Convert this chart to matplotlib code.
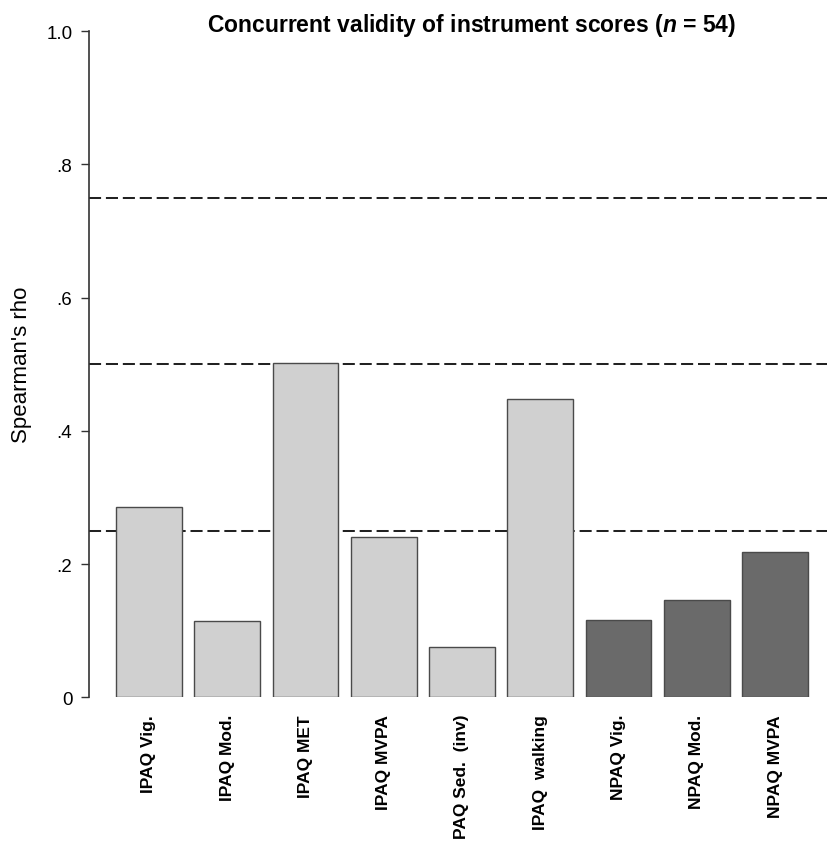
import matplotlib.pyplot as plt
import numpy as np

plt.rcParams['font.family'] = 'Liberation Sans'
plt.rcParams['mathtext.fontset'] = 'custom'
plt.rcParams['mathtext.it'] = 'Liberation Sans:italic:bold'
plt.rcParams['mathtext.rm'] = 'Liberation Sans:bold'

# Spearman's rho per instrument score
labels = ['IPAQ Vig.', 'IPAQ Mod.', 'IPAQ MET', 'IPAQ MVPA', 'PAQ Sed.  (inv)',
          'IPAQ  walking', 'NPAQ Vig.', 'NPAQ Mod.', 'NPAQ MVPA']
rho = [0.286, 0.115, 0.502, 0.240, 0.075, 0.448, 0.116, 0.146, 0.218]
instrument = ['IPAQ'] * 6 + ['NPAQ'] * 3
thresholds = [0.25, 0.5, 0.75]
yticks = [0, 0.2, 0.4, 0.6, 0.8, 1.0]
ytick_labels = ['0', '.2', '.4', '.6', '.8', '1.0']

colors = {'IPAQ': '#d0d0d0', 'NPAQ': '#6a6a6a'}

fig = plt.figure(figsize=(8.27, 8.45), dpi=100)
ax = fig.add_axes([0.1076, 0.1736, 0.8924, 0.7885])

x = np.arange(len(labels))
ax.bar(x, rho, width=0.84, color=[colors[i] for i in instrument],
       edgecolor='#4a4a4a', linewidth=1.0, zorder=3)

for t in thresholds:
    ax.axhline(t, color='#222222', linewidth=1.45, dashes=(6, 2.4), zorder=2)

ax.set_xlim(-0.766, 8.664)
ax.set_ylim(0, 1.0)

for side in ['top', 'right', 'bottom']:
    ax.spines[side].set_visible(False)
ax.spines['left'].set_color('#333333')
ax.spines['left'].set_linewidth(1.2)

ax.set_yticks(yticks)
ax.set_yticklabels(ytick_labels, fontsize=13.5)
ax.tick_params(axis='y', length=6, width=1.0, color='#333333', pad=6)

ax.set_xticks(x)
ax.set_xticklabels(labels, rotation=90, fontsize=12.5, fontweight='bold',
                   va='top', ha='center')
ax.tick_params(axis='x', length=0, pad=12)

ax.set_ylabel("Spearman's rho", fontsize=16, labelpad=10)

fig.text(0.57, 0.962, 'Concurrent validity of instrument scores ($n$ = 54)',
         ha='center', va='baseline', fontsize=16.5, fontweight='bold')

fig.savefig('out.png', dpi=100, facecolor='white')
